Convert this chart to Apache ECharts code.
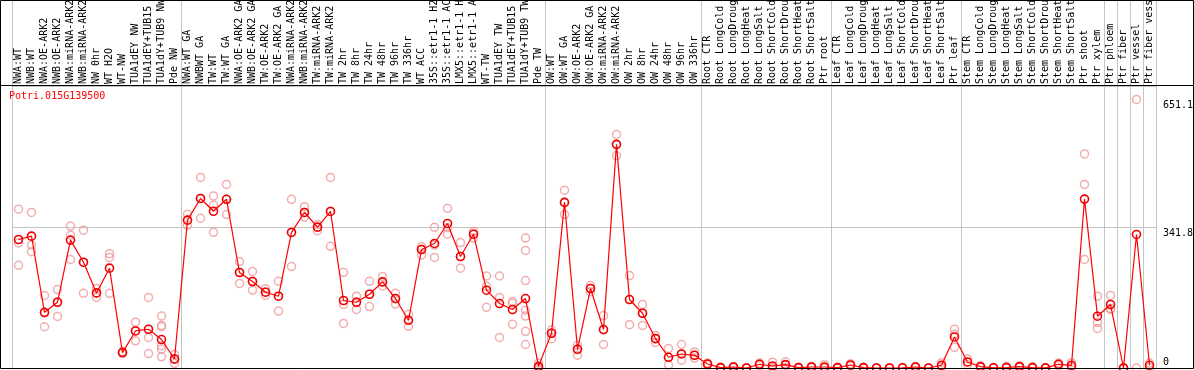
<!DOCTYPE html>
<html><head><meta charset="utf-8">
<script src="https://cdn.jsdelivr.net/npm/echarts@6/dist/echarts.min.js"></script>
<style>html,body{margin:0;padding:0;background:#fff}#c{width:1194px;height:370px}</style>
</head><body><div id="c"></div><script>
const geneName = 'Potri.015G139500';
const categories = [
 'NWA:WT','NWB:WT','NWA:OE-ARK2','NWB:OE-ARK2','NWA:miRNA-ARK2','NWB:miRNA-ARK2','NW 0hr','WT H2O','WT-NW',
 'TUA1dEY NW','TUA1dEY+TUB15 NW','TUA1dY+TUB9 NW','Pde NW',
 'NWA:WT GA','NWBWT GA','TW:WT','TW:WT GA','NWA:OE-ARK2 GA','NWB:OE-ARK2 GA','TW:OE-ARK2','TW:OE-ARK2 GA',
 'NWA:miRNA-ARK2','NWB:miRNA-ARK2','TW:miRNA-ARK2','TW:miRNA-ARK2','TW 2hr','TW 8hr','TW 24hr','TW 48hr','TW 96hr','TW 336hr',
 'WT ACC','35S::etr1-1 H2O','35S::etr1-1 ACC','LMX5::etr1-1 H2O','LMX5::etr1-1 ACC','WT-TW','TUA1dEY TW','TUA1dEY+TUB15 TW','TUA1dY+TUB9 TW','Pde TW',
 'OW:WT','OW:WT GA','OW:OE-ARK2','OW:OE-ARK2 GA','OW:miRNA-ARK2','OW:miRNA-ARK2','OW 2hr','OW 8hr','OW 24hr','OW 48hr','OW 96hr','OW 336hr',
 'Root CTR','Root LongCold','Root LongDrought','Root LongHeat','Root LongSalt','Root ShortCold','Root ShortDrought','Root ShortHeat','Root ShortSalt','Ptr root',
 'Leaf CTR','Leaf LongCold','Leaf LongDrought','Leaf LongHeat','Leaf LongSalt','Leaf ShortCold','Leaf ShortDrought','Leaf ShortHeat','Leaf ShortSalt','Ptr leaf',
 'Stem CTR','Stem LongCold','Stem LongDrought','Stem LongHeat','Stem LongSalt','Stem ShortCold','Stem ShortDrought','Stem ShortHeat','Stem ShortSalt',
 'Ptr shoot','Ptr xylem','Ptr phloem','Ptr fiber','Ptr vessel','Ptr fiber vessel'
];
const means = [
 311.5,319.6,135,159.4,310,256.5,182,242,37.4,89.8,93.9,69,21.8,
 358.4,411,380,409,231.5,209.7,183.7,174,328.6,377,341.4,379.5,163.6,159.4,178.8,208.7,168.4,115.7,
 287.3,301.9,350.4,270.3,324.4,188.6,156.3,141.7,168.4,4,
 84.2,401.4,45.4,192.7,93.2,542.1,166,132.7,71.3,26,34,30.8,
 9.7,1,2.4,0,9,4.9,8.2,1,2.4,2.4,
 1,7.3,1,0,0,0.5,2.4,0,6.6,75.2,
 14.6,3.4,0.5,1.2,3.4,1,0.2,9,6.6,
 409.4,125.5,153.9,0,323.7,6.6
];
const replicates = [
 [385,303,249],[377,298,282],[176,133,100],[190,160,125],[344,322,263],[334,256,181],[193,182,171],[277,268,181],[40,37,35],
 [111,90,66],[171,74,35],[126,103,100,54,46,27],[33,22,11],
 [373,358,346],[462,411,363],[417,395,329],[445,409,372],[258,232,205],[234,210,189],[192,184,176],[210,174,138],
 [409,329,246],[391,377,366],[348,341,333],[462,380,295],[232,154,108],[174,160,142],[210,179,149],[222,209,199],[181,168,155],[130,116,101],
 [294,287,274],[341,298,268],[387,340,325],[304,270,242],[331,325,315],[223,198,147],[223,171,74],[161,157,106],[315,285,212,140,126,89,57],[12,2,0],
 [92,84,71],[431,401,372],[55,45,31],[200,193,185],[127,93,57],[566,542,515],[224,166,105],[154,133,103],[79,71,62],[47,26,7],[57,34,19],[39,31,24],
 [12,10,7],[2,1,0],[4,2,1],[0,0,0],[12,9,6],[14,1,0],[15,8,2],[2,1,0],[4,2,1],[8,1,0],
 [2,1,0],[10,7,5],[2,1,0],[0,0,0],[0,0,0],[1,0,0],[4,2,1],[0,0,0],[13,5,2],[94,82,50],
 [22,14,8],[5,3,2],[1,0,0],[4,0,0],[5,3,2],[3,0,0],[0,0,0],[12,9,6],[13,5,2],
 [519,445,263],[174,110,96],[176,144,142],[0,0],[651.1,0],[12,1]
];
const groupStarts = [0,13,41,53,63,73,84,85,86,87];
const yTickLabels = [0, 341.8, 651.1];
const yMax = 683.6;

const mono = 'DejaVu Sans Mono';
const repData = [];
replicates.forEach((reps, i) => reps.forEach(v => repData.push([i, v])));
const sepFn = (idx) => groupStarts.indexOf(idx) >= 0;
const gray = '#c4c4c4';

const chart = echarts.init(document.getElementById('c'), null, {renderer: 'canvas'});
chart.setOption({
  animation: false,
  backgroundColor: '#fff',
  title: {text: geneName, left: 9, top: 91, padding: 0,
    textStyle: {color: '#ff0000', fontFamily: mono, fontSize: 10, fontWeight: 'normal'}},
  grid: [
    {left: 12, right: 38, top: 86, bottom: 2, containLabel: false, outerBoundsMode: 'none'},
    {left: 12, right: 38, top: 0, height: 86, containLabel: false, outerBoundsMode: 'none'}
  ],
  xAxis: [
    {type: 'category', data: categories, gridIndex: 0, position: 'top', boundaryGap: true,
     axisLine: {show: false}, axisTick: {show: false},
     axisLabel: {interval: 0, rotate: 90, margin: 2, fontFamily: mono, fontSize: 10, color: '#000', hideOverlap: false},
     splitLine: {show: true, interval: sepFn, lineStyle: {color: gray, width: 1}}},
    {type: 'category', data: categories, gridIndex: 1, boundaryGap: true,
     axisLine: {show: false}, axisTick: {show: false}, axisLabel: {show: false},
     splitLine: {show: true, interval: sepFn, lineStyle: {color: gray, width: 1}}}
  ],
  yAxis: [
    {type: 'value', gridIndex: 0, position: 'right', min: 0, max: yMax, interval: yMax / 2,
     axisLine: {show: false}, axisTick: {show: false},
     splitLine: {show: true, lineStyle: {color: gray, width: 1}},
     axisLabel: {customValues: yTickLabels, margin: 7, fontFamily: mono, fontSize: 10, color: '#000',
       formatter: v => v === 0 ? '{b|0}' : '{t|' + v + '}',
       rich: {b: {fontFamily: mono, fontSize: 10, color: '#000', padding: [0, 0, 12, 0]},
              t: {fontFamily: mono, fontSize: 10, color: '#000', padding: [12, 0, 0, 0]}}}},
    {type: 'value', gridIndex: 1, min: 0, max: 1, axisLine: {show: false}, axisTick: {show: false},
     axisLabel: {show: false}, splitLine: {show: false}}
  ],
  series: [
    {type: 'scatter', xAxisIndex: 0, yAxisIndex: 0, data: repData, symbol: 'circle', symbolSize: 8,
     itemStyle: {color: 'rgba(255,255,255,0)', borderColor: '#ef9a9a', borderWidth: 1.5}, z: 2, silent: true},
    {type: 'line', xAxisIndex: 0, yAxisIndex: 0, data: means, symbol: 'circle', symbolSize: 8, showAllSymbol: true,
     lineStyle: {color: '#ff0000', width: 1.2},
     itemStyle: {color: 'rgba(255,255,255,0)', borderColor: '#ee0000', borderWidth: 1.6}, z: 3, silent: true}
  ],
  graphic: [
    {type: 'rect', shape: {x: 0.5, y: 0.5, width: 1193, height: 368}, style: {fill: 'none', stroke: '#000', lineWidth: 1}, z: 100},
    {type: 'line', shape: {x1: 0, y1: 85.5, x2: 1194, y2: 85.5}, style: {stroke: '#000', lineWidth: 1}, z: 100}
  ]
});
</script></body></html>
